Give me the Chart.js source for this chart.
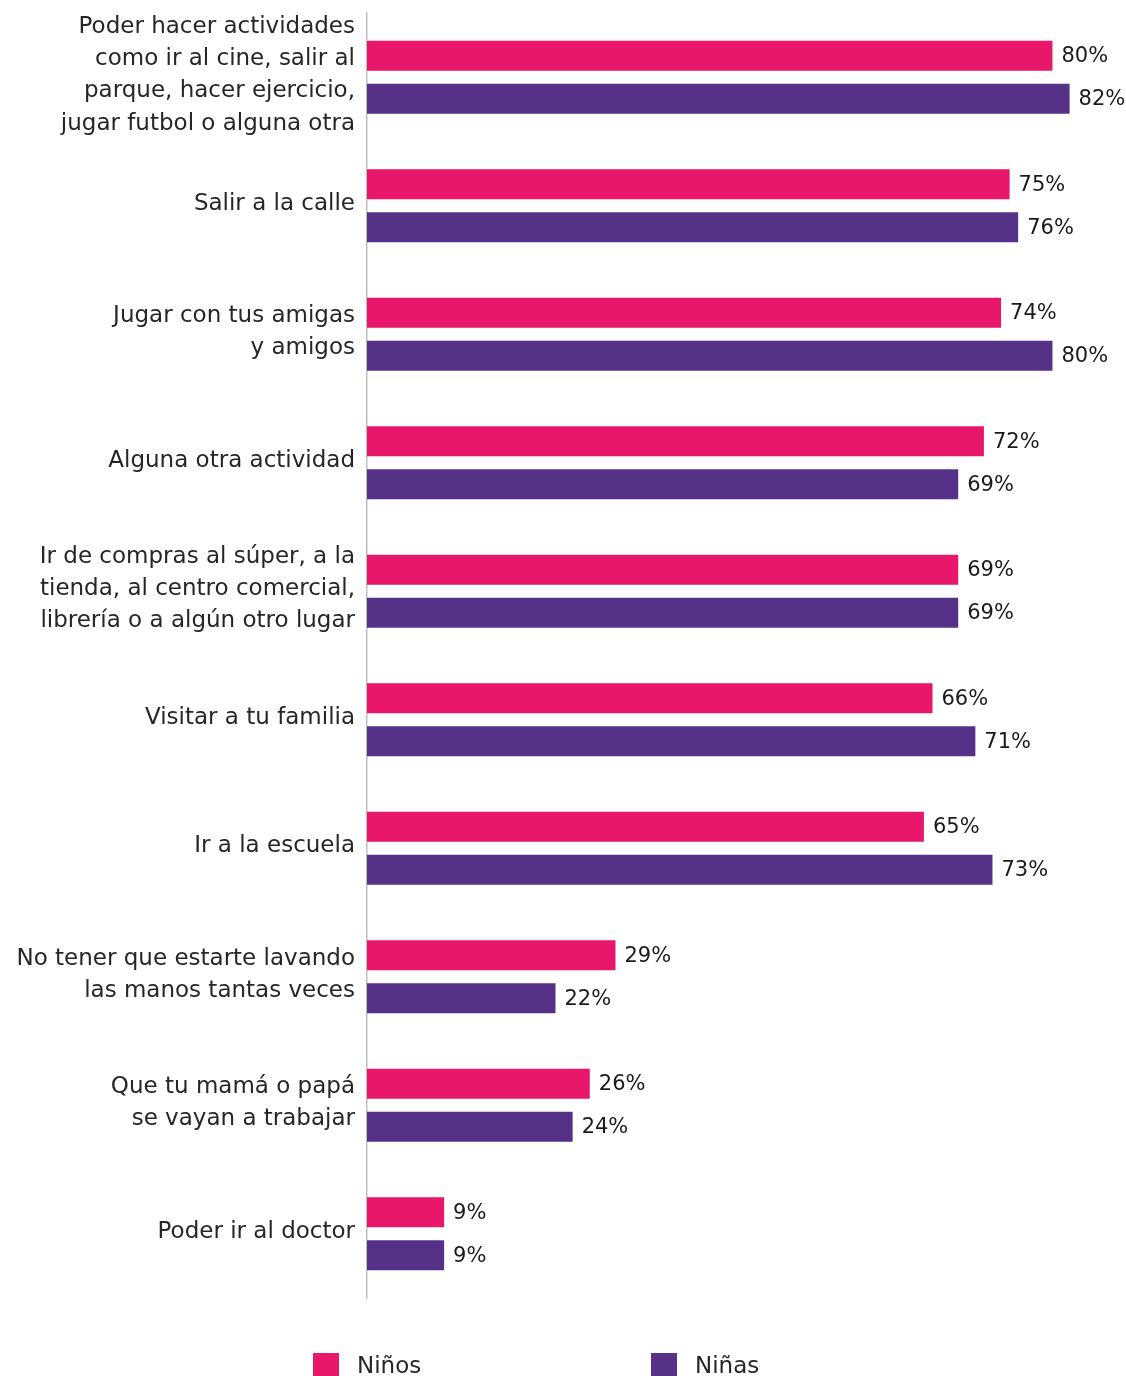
<!DOCTYPE html>
<html>
<head>
<meta charset="utf-8">
<script src="https://cdn.jsdelivr.net/npm/chart.js@4/dist/chart.umd.min.js"></script>
<style>
  html, body { margin: 0; padding: 0; background: #ffffff; }
  #wrap { position: relative; width: 1126px; height: 1376px; overflow: hidden; }
  #legend { position: absolute; left: 313px; top: 1352px; display: flex; font-family: "DejaVu Sans", sans-serif; font-size: 23px; color: #262626; }
  .item { width: 338px; display: flex; align-items: center; }
  .box { width: 26px; height: 25px; margin-right: 18px; }
</style>
</head>
<body>
<div id="wrap">
  <canvas id="c"></canvas>
  <div id="legend"></div>
</div>
<script>
const categories = [
  ["Poder hacer actividades", "como ir al cine, salir al", "parque, hacer ejercicio,", "jugar futbol o alguna otra"],
  "Salir a la calle",
  ["Jugar con tus amigas", "y amigos"],
  "Alguna otra actividad",
  ["Ir de compras al súper, a la", "tienda, al centro comercial,", "librería o a algún otro lugar"],
  "Visitar a tu familia",
  "Ir a la escuela",
  ["No tener que estarte lavando", "las manos tantas veces"],
  ["Que tu mamá o papá", "se vayan a trabajar"],
  "Poder ir al doctor"
];
const seriesNames = ["Niños", "Niñas"];
const ninos = [80, 75, 74, 72, 69, 66, 65, 29, 26, 9];
const ninas = [82, 76, 80, 69, 69, 71, 73, 22, 24, 9];
const colors = ["#E8176B", "#553288"];

const FONT = '"DejaVu Sans", sans-serif';

const valueLabels = {
  id: 'valueLabels',
  afterDatasetsDraw(chart) {
    const ctx = chart.ctx;
    ctx.save();
    ctx.font = '21px ' + FONT;
    ctx.fillStyle = '#1a1a1a';
    ctx.textBaseline = 'middle';
    ctx.textAlign = 'left';
    chart.data.datasets.forEach((ds, i) => {
      chart.getDatasetMeta(i).data.forEach((bar, j) => {
        ctx.fillText(ds.data[j] + '%', bar.x + 9, bar.y + 1);
      });
    });
    ctx.restore();
  }
};

const chart = new Chart(document.getElementById('c'), {
  type: 'bar',
  data: {
    labels: categories,
    datasets: [
      { label: seriesNames[0], data: ninos, backgroundColor: colors[0], barPercentage: 0.7, categoryPercentage: 0.67 },
      { label: seriesNames[1], data: ninas, backgroundColor: colors[1], barPercentage: 0.7, categoryPercentage: 0.67 }
    ]
  },
  options: {
    indexAxis: 'y',
    responsive: true,
    maintainAspectRatio: false,
    animation: false,
    devicePixelRatio: 1,
    layout: { padding: { top: 13, bottom: 78, right: 5, left: 0 } },
    plugins: {
      legend: { display: false },
      tooltip: { enabled: false }
    },
    scales: {
      x: {
        display: false,
        min: 0,
        max: 88
      },
      y: {
        grid: { display: false, drawTicks: false },
        border: { display: true, color: '#bfbfbf', width: 1.5 },
        ticks: {
          autoSkip: false,
          font: { family: FONT, size: 23, lineHeight: 1.4 },
          color: '#262626',
          padding: 12,
          labelOffset: -2
        },
        afterFit(scale) {
          scale.width = 367;
          scale.paddingTop = 0;
          scale.paddingBottom = 0;
        }
      }
    }
  },
  plugins: [valueLabels]
});

const legend = document.getElementById('legend');
chart.data.datasets.forEach(ds => {
  const item = document.createElement('div');
  item.className = 'item';
  const box = document.createElement('div');
  box.className = 'box';
  box.style.background = ds.backgroundColor;
  const txt = document.createElement('span');
  txt.textContent = ds.label;
  item.appendChild(box);
  item.appendChild(txt);
  legend.appendChild(item);
});
</script>
</body>
</html>
